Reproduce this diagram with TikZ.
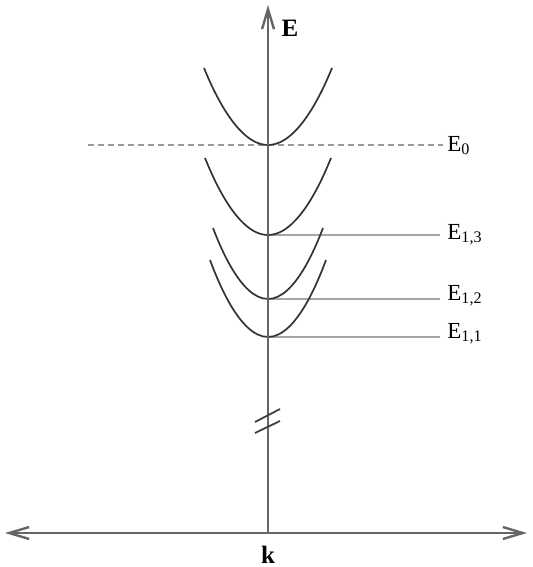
\documentclass[tikz,border=0pt]{standalone}
\usepackage{fontspec}
\setmainfont{Liberation Serif}
\usetikzlibrary{arrows.meta,positioning}

\begin{document}
\begin{tikzpicture}[x=0.5pt,y=-0.5pt,>={Straight Barb[length=10pt,width=6pt]}]
  \tikzstyle{axis}=[draw=black!60,line width=1.2pt]
  \tikzstyle{band}=[draw=black!80,line width=0.85pt]
  \tikzstyle{level}=[draw=black!35,line width=1.1pt]
  \tikzstyle{cutoff}=[draw=black!40,line width=0.9pt,dash pattern=on 3pt off 2pt]
  \tikzstyle{tag}=[anchor=base west,inner sep=0pt,font=\fontsize{11.5}{13}\selectfont]
  \tikzstyle{axtag}=[inner sep=0pt,font=\fontsize{12.5}{14}\selectfont\bfseries]

  \useasboundingbox (0,0) rectangle (532,567);

  % Axes
  \coordinate (origin) at (268,533);
  \coordinate (top) at (268,5);
  \coordinate (left) at (5,533);
  \coordinate (right) at (527,533);

  % Band minima
  \coordinate (v0) at (268,145);
  \coordinate (v13) at (268,235);
  \coordinate (v12) at (268,299);
  \coordinate (v11) at (268,337);
  \coordinate (dstart) at (88,145);

  % Labels
  \node [axtag] (elabel) at (290,28) {E};
  \node [axtag] (klabel) at (268,555) {k};
  \node [tag] (e0) at (447,151) {E\textsubscript{0}};
  \node [tag] (e13) at (447,239) {E\textsubscript{1,3}};
  \node [tag] (e12) at (447,300) {E\textsubscript{1,2}};
  \node [tag] (e11) at (447,338) {E\textsubscript{1,1}};

  % Levels
  \draw [cutoff] (dstart) -- ([xshift=-2pt]dstart -| e0.west);
  \draw [level] (v13) -- ([xshift=-3.5pt]v13 -| e13.west);
  \draw [level] (v12) -- ([xshift=-3.5pt]v12 -| e12.west);
  \draw [level] (v11) -- ([xshift=-3.5pt]v11 -| e11.west);

  % Bands
  \draw [band] (204,68) parabola bend (v0) (332,68);
  \draw [band] (205,158) parabola bend (v13) (331,158);
  \draw [band] (213,228) parabola bend (v12) (323,228);
  \draw [band] (210,260) parabola bend (v11) (326,260);

  % Axes and break
  \draw [axis,->] (origin) -- (top);
  \draw [axis,<->] (left) -- (right);
  \draw [axis,line width=0.9pt,draw=black!75] (255,422) -- (280,409);
  \draw [axis,line width=0.9pt,draw=black!75] (255,433) -- (280,421);
\end{tikzpicture}
\end{document}
